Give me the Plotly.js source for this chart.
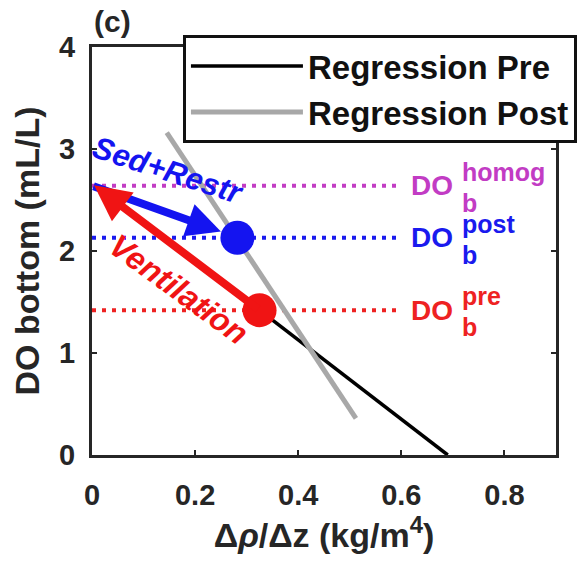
<!DOCTYPE html>
<html>
<head>
<meta charset="utf-8">
<script src="https://cdn.plot.ly/plotly-3.0.1.min.js"></script>
<style>html,body{margin:0;padding:0;background:#fff;}#chart{width:583px;height:570px;}</style>
</head>
<body>
<div id="chart"></div>
<script>
// ---- data ----
const xTickVals = [0, 0.2, 0.4, 0.6, 0.8];
const xTickText = ['0', '0.2', '0.4', '0.6', '0.8'];
const yTickVals = [0, 1, 2, 3, 4];
const yTickText = ['0', '1', '2', '3', '4'];

const regPreX = [0.325, 0.69];
const regPreY = [1.42, 0];
const regPostX = [0.145, 0.512];
const regPostY = [3.16, 0.36];

const statePreX = [0.325];
const statePreY = [1.42];
const statePostX = [0.282];
const statePostY = [2.13];

const levelNames = ['homog', 'post', 'pre'];
const levelValues = [2.64, 2.13, 1.42];
const levelXEnd = 0.59;

const sedArrowFrom = [0, 2.64];
const sedArrowTo = [0.25, 2.19];
const ventArrowFrom = [0.325, 1.42];
const ventArrowTo = [0.004, 2.645];

// ---- styles ----
const FONT = 'Liberation Sans, Arial, sans-serif';
const AX = '#262626';
const levelColors = ['#c23cc4', '#1a1aee', '#ee2222'];
const BLUE = '#1414f0', RED = '#f01414';

const traces = [];
levelValues.forEach((v, i) => {
  traces.push({x: [0, levelXEnd], y: [v, v], mode: 'lines', showlegend: false, hoverinfo: 'skip',
    line: {color: levelColors[i], width: 4, dash: '4px,6px'}});
});
traces.push({x: regPreX, y: regPreY, mode: 'lines', name: 'Regression Pre', line: {color: '#000', width: 3.5}});
traces.push({x: regPostX, y: regPostY, mode: 'lines', name: 'Regression Post', line: {color: '#a8a8a8', width: 5}});
traces.push({x: statePostX, y: statePostY, mode: 'markers', showlegend: false, marker: {color: BLUE, size: 34}});
traces.push({x: statePreX, y: statePreY, mode: 'markers', showlegend: false, marker: {color: RED, size: 34}});

const annotations = [
  {x: sedArrowTo[0], y: sedArrowTo[1], ax: sedArrowFrom[0], ay: sedArrowFrom[1], axref: 'x', ayref: 'y', xref: 'x', yref: 'y',
   text: '', showarrow: true, arrowhead: 2, arrowsize: 0.85, arrowwidth: 8, arrowcolor: BLUE},
  {x: ventArrowTo[0], y: ventArrowTo[1], ax: ventArrowFrom[0], ay: ventArrowFrom[1], axref: 'x', ayref: 'y', xref: 'x', yref: 'y',
   text: '', showarrow: true, arrowhead: 2, arrowsize: 0.9, arrowwidth: 8, arrowcolor: RED},
  {x: 0.148, y: 2.79, xref: 'x', yref: 'y', text: 'Sed+Restr', showarrow: false, textangle: 18,
   font: {family: FONT, size: 31, color: BLUE, weight: 'bold', style: 'italic'}},
  {x: 0.168, y: 1.63, xref: 'x', yref: 'y', text: 'Ventilation', showarrow: false, textangle: 36,
   font: {family: FONT, size: 32, color: RED, weight: 'bold', style: 'italic'}},
  {x: 0, y: 1, xref: 'paper', yref: 'paper', xanchor: 'left', yanchor: 'bottom', yshift: 7, text: '(c)', showarrow: false,
   font: {family: FONT, size: 30, color: AX, weight: 'bold'}}
];
levelValues.forEach((v, i) => {
  annotations.push({x: 0.615, y: v, xref: 'x', yref: 'y', xanchor: 'left', yanchor: 'middle', text: 'DO', showarrow: false,
    font: {family: FONT, size: 28, color: levelColors[i], weight: 'bold'}});
  annotations.push({x: 0.713, y: v, xref: 'x', yref: 'y', xanchor: 'left', yanchor: 'middle', yshift: 14, text: levelNames[i], showarrow: false,
    font: {family: FONT, size: 25, color: levelColors[i], weight: 'bold'}});
  annotations.push({x: 0.713, y: v, xref: 'x', yref: 'y', xanchor: 'left', yanchor: 'middle', yshift: -17, text: 'b', showarrow: false,
    font: {family: FONT, size: 25, color: levelColors[i], weight: 'bold'}});
});

const axisCommon = {
  showline: true, linewidth: 3, linecolor: AX, mirror: 'ticks', ticks: 'inside', ticklen: 5, tickwidth: 2, tickcolor: AX,
  showgrid: false, zeroline: false, fixedrange: true,
  tickfont: {family: FONT, size: 29, color: AX, weight: 'bold'}
};

const layout = {
  width: 583, height: 570,
  margin: {l: 92, r: 27, t: 47, b: 115, autoexpand: false},
  paper_bgcolor: '#fff', plot_bgcolor: '#fff',
  showlegend: true,
  legend: {x: 0.196, y: 1.029, xanchor: 'left', yanchor: 'top', bgcolor: '#fff', bordercolor: '#111', borderwidth: 3,
    itemwidth: 112, font: {family: FONT, size: 33, color: '#111', weight: 'bold'}},
  xaxis: Object.assign({}, axisCommon, {range: [0, 0.9], tickmode: 'array', tickvals: xTickVals, ticktext: xTickText,
    ticklabelstandoff: 12,
    title: {text: 'Δ<i>ρ</i>/Δz (kg/m<sup>4</sup>)', standoff: 12, font: {family: FONT, size: 34, color: AX, weight: 'bold'}}}),
  yaxis: Object.assign({}, axisCommon, {range: [0, 4], tickmode: 'array', tickvals: yTickVals, ticktext: yTickText,
    ticklabelstandoff: 8,
    title: {text: 'DO bottom (mL/L)', standoff: 10, font: {family: FONT, size: 34, color: AX, weight: 'bold'}}}),
  annotations: annotations
};

Plotly.newPlot('chart', traces, layout, {displayModeBar: false, staticPlot: true});
</script>
</body>
</html>
